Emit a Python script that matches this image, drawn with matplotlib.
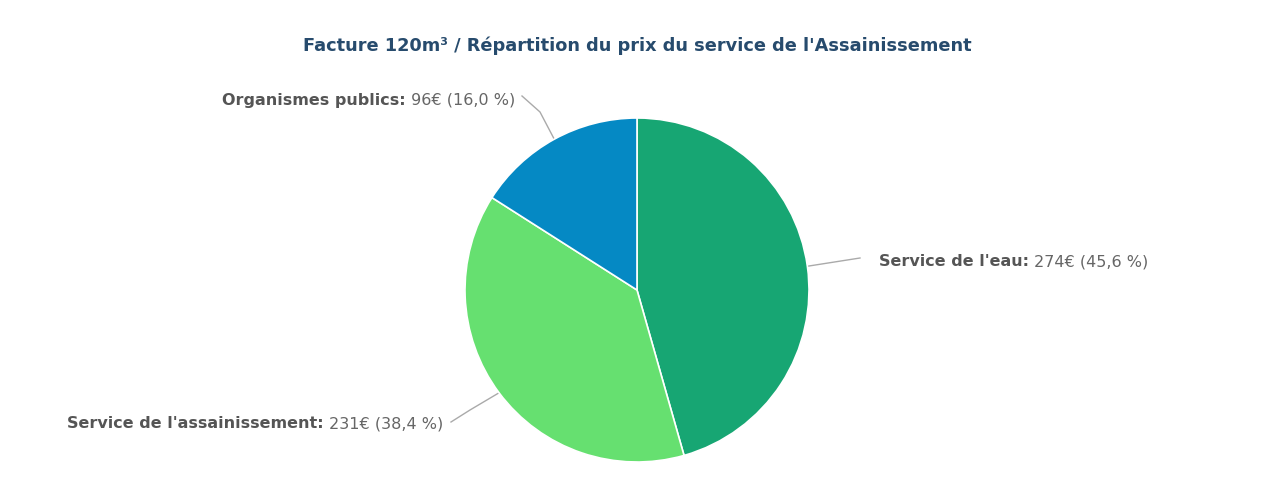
import numpy as np
import matplotlib.pyplot as plt

labels = ["Service de l'eau", "Service de l'assainissement", "Organismes publics"]
values = [274, 231, 96]
colors = ["#17a673", "#66e070", "#0589c4"]
title = "Facture 120m³ / Répartition du prix du service de l'Assainissement"

W, H = 1262, 499
fig = plt.figure(figsize=(W / 100, H / 100), dpi=100)
ax = fig.add_axes([0, 0, 1, 1])

cx, cy, r = 637, H - 290, 172
wedges, _ = ax.pie(values, colors=colors, startangle=90, counterclock=False,
                   center=(cx, cy), radius=r, frame=True,
                   wedgeprops=dict(edgecolor="white", linewidth=1.2))
ax.set_xlim(0, W)
ax.set_ylim(0, H)
ax.set_aspect("equal")
ax.axis("off")

fig.text(637 / W, 1 - 46 / H, title, ha="center", va="center",
         fontsize=12.75, fontweight="bold", color="#274b6d")

total = sum(values)
# label anchor (pixel coords from top-left), alignment, connector points
label_pos = [(879, 262, "left", [(860, 258)]),
             (443, 424, "right", [(470, 410), (451, 422)]),
             (515, 100, "right", [(540, 112), (522, 96)])]

fig.canvas.draw()
renderer = fig.canvas.get_renderer()
for w, lab, v, (tx, ty, ha, pts) in zip(wedges, labels, values, label_pos):
    mid = np.deg2rad((w.theta1 + w.theta2) / 2)
    xs = [cx + r * np.cos(mid)] + [p[0] for p in pts]
    ys = [cy + r * np.sin(mid)] + [H - p[1] for p in pts]
    ax.plot(xs, ys, color="#aaaaaa", lw=1, zorder=0)
    pct = f"{v / total * 100:.1f}".replace(".", ",")
    bold = ax.text(0, 0, lab + ":", fontsize=11.5, fontweight="bold", color="#555555")
    reg = ax.text(0, 0, f" {v}€ ({pct} %)", fontsize=11.5, color="#666666")
    bw = bold.get_window_extent(renderer).width
    rw = reg.get_window_extent(renderer).width
    x0 = tx if ha == "left" else tx - bw - rw
    bold.set_position((x0, H - ty))
    bold.set_va("center")
    reg.set_position((x0 + bw, H - ty))
    reg.set_va("center")

fig.savefig("out.png", dpi=100, facecolor="white")
